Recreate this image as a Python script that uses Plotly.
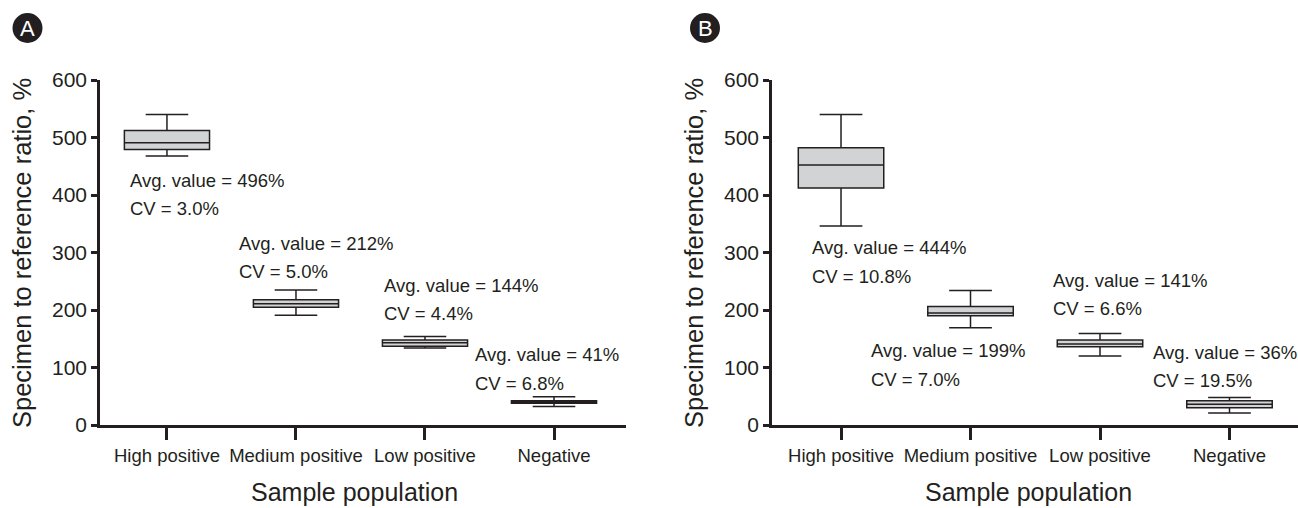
import plotly.graph_objects as go

categories = ["High positive", "Medium positive", "Low positive", "Negative"]

# Panel A
a_upper = [540, 235, 154, 49]
a_q3 = [512, 218, 148, 42]
a_median = [491, 211, 143, 40]
a_q1 = [479, 205, 137, 38]
a_lower = [468, 191, 134, 32]
a_avg = ["496%", "212%", "144%", "41%"]
a_cv = ["3.0%", "5.0%", "4.4%", "6.8%"]

# Panel B
b_upper = [540, 234, 159, 48]
b_q3 = [482, 206, 148, 42]
b_median = [452, 195, 141, 36]
b_q1 = [412, 190, 136, 30]
b_lower = [346, 169, 120, 21]
b_avg = ["444%", "199%", "141%", "36%"]
b_cv = ["10.8%", "7.0%", "6.6%", "19.5%"]

y_ticks = [0, 100, 200, 300, 400, 500, 600]

# label placement (category offsets / y positions of first line)
a_lab_x = [-0.298, 0.550, 1.677, 2.376]
a_lab_y = [426, 316, 243, 122]
b_lab_x = [-0.235, 0.222, 1.632, 2.405]
b_lab_y = [308, 129, 252, 126]

W, H = 1298, 508
INK = "#231f20"
FONT = "Liberation Sans, Arial, Helvetica, sans-serif"
SMALL = 18.5

fig = go.Figure()

def add_box(up, q3, med, q1, lo, xa, ya):
    fig.add_trace(go.Box(
        x=categories, q1=q1, median=med, q3=q3, lowerfence=lo, upperfence=up,
        width=0.66, whiskerwidth=0.5, boxpoints=False,
        fillcolor="#d1d3d4", line=dict(color=INK, width=1.5),
        xaxis=xa, yaxis=ya, showlegend=False, hoverinfo="skip",
    ))

add_box(a_upper, a_q3, a_median, a_q1, a_lower, "x", "y")
add_box(b_upper, b_q3, b_median, b_q1, b_lower, "x2", "y2")

ydom = [(H - 425) / H, (H - 80) / H]
axis_common = dict(showline=True, linecolor=INK, linewidth=2.5, ticks="outside",
                   tickcolor=INK, tickwidth=2.5, showgrid=False, zeroline=False,
                   automargin=False)
xcommon = dict(type="category", ticklen=12, tickangle=0,
               tickfont=dict(family=FONT, size=SMALL, color=INK), **axis_common)
ycommon = dict(range=[0, 600], tickvals=y_ticks, ticklen=6,
               tickfont=dict(family=FONT, size=21, color=INK), **axis_common)

fig.update_layout(
    width=W, height=H, margin=dict(l=0, r=0, t=0, b=0, autoexpand=False),
    plot_bgcolor="white", paper_bgcolor="white", showlegend=False,
    xaxis=dict(domain=[100 / W, 626 / W], range=[-0.519, 3.558], anchor="y", **xcommon),
    yaxis=dict(domain=ydom, anchor="x", **ycommon),
    xaxis2=dict(domain=[772 / W, 1.0], range=[-0.533, 3.529], anchor="y2", **xcommon),
    yaxis2=dict(domain=ydom, anchor="x2", **ycommon),
)

anns = []
for xs, ys, avgs, cvs, xr, yr in [(a_lab_x, a_lab_y, a_avg, a_cv, "x", "y"),
                                  (b_lab_x, b_lab_y, b_avg, b_cv, "x2", "y2")]:
    for xv, yv, av, cv in zip(xs, ys, avgs, cvs):
        anns.append(dict(x=xv, y=yv, xref=xr, yref=yr, xanchor="left", yanchor="middle",
                         text=f"Avg. value = {av}", showarrow=False, borderpad=0,
                         font=dict(family=FONT, size=SMALL, color=INK)))
        anns.append(dict(x=xv, y=yv - 49, xref=xr, yref=yr, xanchor="left", yanchor="middle",
                         text=f"CV = {cv}", showarrow=False, borderpad=0,
                         font=dict(family=FONT, size=SMALL, color=INK)))

# axis titles
for cx in [354 / W, 1028 / W]:
    anns.append(dict(x=cx, y=1 / H, xref="paper", yref="paper", xanchor="center",
                     yanchor="bottom", text="Sample population", showarrow=False, borderpad=0,
                     font=dict(family=FONT, size=25, color=INK)))
for cx in [22 / W, 694 / W]:
    anns.append(dict(x=cx, y=1 - 253 / H, xref="paper", yref="paper", xanchor="center",
                     yanchor="middle", text="Specimen to reference ratio, %", textangle=-90,
                     showarrow=False, font=dict(family=FONT, size=25.5, color=INK)))

# panel labels
shapes = []
for (cx, cy, letter) in [(27.5, 28, "A"), (705, 28, "B")]:
    r = 15
    shapes.append(dict(type="circle", xref="paper", yref="paper",
                       x0=(cx - r) / W, x1=(cx + r) / W, y0=1 - (cy + r) / H, y1=1 - (cy - r) / H,
                       fillcolor=INK, line=dict(width=0)))
    anns.append(dict(x=cx / W, y=1 - (cy + 0.5) / H, xref="paper", yref="paper", xanchor="center",
                     yanchor="middle", text=letter, showarrow=False,
                     font=dict(family=FONT, size=22, color="white")))

fig.update_layout(annotations=anns, shapes=shapes)
fig.write_html("out.html")
